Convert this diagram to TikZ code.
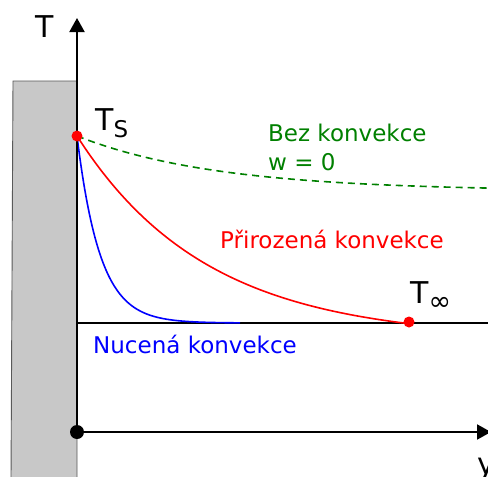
\documentclass[tikz,border=0pt]{standalone}
\usepackage{fontspec}
\setmainfont{DejaVu Sans}
\usetikzlibrary{arrows.meta}
\definecolor{wall}{HTML}{C8C8C8}
\definecolor{dgreen}{HTML}{008000}
\newcommand{\subtxt}[2]{{\fontsize{#1}{26}\selectfont\raisebox{-7pt}{#2}}}
\begin{document}
\begin{tikzpicture}[x=1pt,y=-1pt,
  lbl/.style={anchor=base west, inner sep=0pt, font=\fontsize{23}{27}\selectfont},
  big/.style={anchor=base west, inner sep=0pt, font=\fontsize{30}{36}\selectfont},
  axis/.style={line width=2pt, -{Triangle[length=14pt,width=15pt]}},
  curve/.style={line width=1.6pt},
  dot/.style={circle, fill=red, inner sep=0pt, minimum size=11pt}]
\useasboundingbox (0,0) rectangle (488,477);
% wall
\filldraw[fill=wall, draw=black!65, line width=0.9pt] (13,81) -- (77,81) -- (77,480) -- (11,480) -- cycle;
% coordinates
\coordinate (O) at (77,432);
\coordinate (Ttop) at (77,18);
\coordinate (Yend) at (491,432);
\coordinate (Linf0) at (77,323);
\coordinate (Linf1) at (490,323);
% T infinity line
\draw[line width=1.5pt] (Linf0) -- (Linf1);
% curves
\draw[curve, dgreen, dash pattern=on 7pt off 5pt]
  plot[domain=77:490, samples=120] (\x, {136 + 55*(1-exp(-(\x-77)/140))});
\draw[curve, red]
  plot[domain=77:409, samples=120] (\x, {339.5 - 203.5*exp(-(\x-77)/130)});
\draw[curve, blue]
  plot[domain=77:240, samples=120] (\x, {323 - 187*exp(-(\x-77)/23)});
% axes
\draw[axis] (O) -- (Ttop);
\draw[axis] (O) -- (Yend);
\node[circle, fill=black, inner sep=0pt, minimum size=14pt] (origin) at (O) {};
% dots
\node[dot] (Ts) at (77,136) {};
\node[dot] (Tinf) at (409,322) {};
% labels
\node[big] (labT) at (35,37) {T};
\node[big] (labY) at (477,474) {y};
\node[big] (labTs) at (95,130) {T\subtxt{23}{S}};
\node[big] (labTinf) at (410,303) {T\subtxt{27}{∞}};
\node[lbl, text=dgreen] (bez) at (268,141) {Bez konvekce};
\node[lbl, text=dgreen] (w0) at (268,170) {w = 0};
\node[lbl, text=red] (pri) at (220,248) {Přirozená konvekce};
\node[lbl, text=blue] (nuc) at (93,353) {Nucená konvekce};
\end{tikzpicture}
\end{document}
